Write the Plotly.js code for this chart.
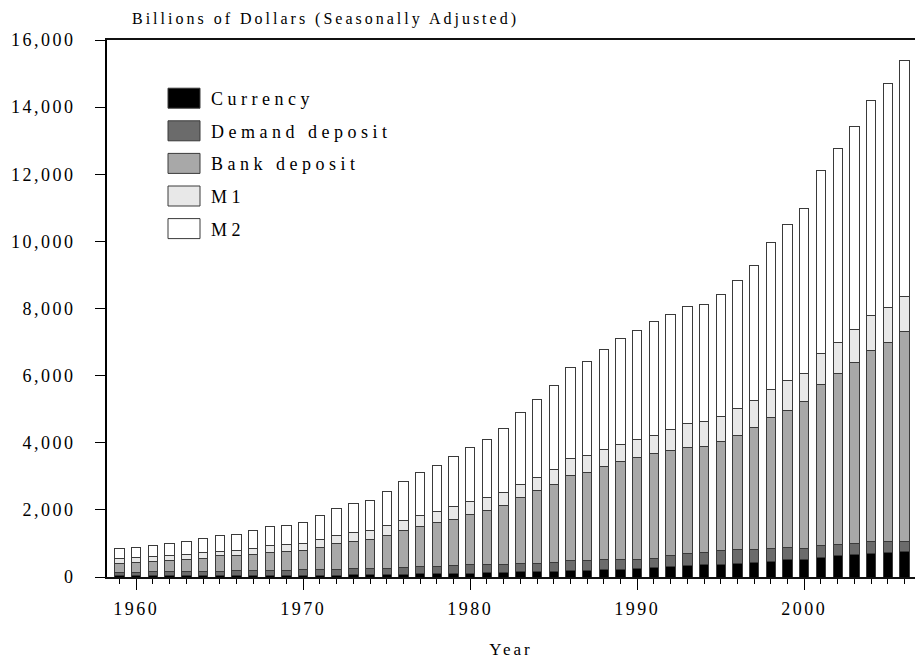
<!DOCTYPE html>
<html><head><meta charset="utf-8">
<script src="https://cdn.plot.ly/plotly-3.0.1.min.js"></script>
<style>
body{margin:0;background:#fff}
#chart .xtick text, #chart .ytick text {letter-spacing:2.5px}
#chart .legendtext {letter-spacing:4.5px}
#chart .gtitle {letter-spacing:3px}
#chart .xtitle {letter-spacing:3px}
</style></head><body>
<div id="chart" style="width:915px;height:667px"></div>
<script>
const years = [1959,1960,1961,1962,1963,1964,1965,1966,1967,1968,1969,1970,1971,1972,1973,1974,1975,1976,1977,1978,1979,1980,1981,1982,1983,1984,1985,1986,1987,1988,1989,1990,1991,1992,1993,1994,1995,1996,1997,1998,1999,2000,2001,2002,2003,2004,2005,2006];
const currency = [30,30,31,32,34,36,38,40,42,45,48,51,55,59,64,70,76,83,91,100,109,119,127,137,151,161,173,186,203,219,231,255,276,300,330,362,382,405,435,470,526,536,595,640,675,710,735,760];
const demandDeposit = [119,119,121,127,128,133,134,139,143,154,155,161,167,179,188,188,192,200,209,220,229,241,233,240,246,251,267,309,297,288,276,271,290,345,375,383,393,400,399,370,354,319,340,314,325,340,310,310];
const bankDeposit = [259,278,315,328,374,397,454,447,500,536,562,588,652,755,811,854,963,1088,1210,1299,1390,1507,1626,1768,1967,2151,2331,2534,2619,2781,2939,3030,3099,3129,3159,3139,3248,3416,3606,3920,4095,4360,4815,5116,5390,5690,5935,6240];
const m1 = [149,149,149,159,140,159,139,169,169,189,189,203,248,248,268,278,289,308,328,338,378,387,368,368,387,407,427,497,496,506,497,531,566,626,705,744,764,805,814,830,870,843,915,930,980,1043,1045,1050];
const m2 = [298,308,318,347,387,417,457,476,536,566,586,631,706,805,854,894,1013,1152,1271,1370,1470,1590,1748,1917,2136,2304,2503,2731,2811,2990,3157,3268,3374,3431,3488,3485,3634,3800,4026,4375,4649,4922,5435,5776,6057,6405,6673,7040];
const seriesNames = ['Currency','Demand deposit','Bank deposit','M1','M2'];
const seriesValues = [currency, demandDeposit, bankDeposit, m1, m2];
const seriesColors = ['#000000','#6b6b6b','#a8a8a8','#e8e8e8','#ffffff'];
const yTicks = [0,2000,4000,6000,8000,10000,12000,14000,16000];

const FONT = '"Liberation Serif", "Times New Roman", Times, serif';
const traces = seriesNames.map((n,i)=>({
  type:'bar', name:n, x:years, y:seriesValues[i], legendgroup:'g'+i,
  marker:{color:seriesColors[i], line:{color:'#3a3a3a', width:1}},
  hoverinfo:'x+y+name'
}));
const layout = {
  width:915, height:667, barmode:'stack', bargap:0.44,
  paper_bgcolor:'#fff', plot_bgcolor:'#fff',
  font:{family:FONT, size:18, color:'#000'},
  margin:{l:107, r:0, t:40, b:90},
  title:{text:'Billions of Dollars (Seasonally Adjusted)', font:{family:FONT, size:16, color:'#000'},
    x:132/915, xref:'container', xanchor:'left', y:1-18/667, yref:'container', yanchor:'middle'},
  xaxis:{range:[1958.25, 2006.63], tick0:1960, dtick:10, ticks:'outside', ticklen:11, tickwidth:1, tickcolor:'#000',
    minor:{dtick:1, ticks:'outside', ticklen:5, tickwidth:1, tickcolor:'#000'},
    showline:true, mirror:true, linecolor:'#111', linewidth:2, showgrid:false, zeroline:false,
    tickfont:{family:FONT, size:18}, ticklabelstandoff:3,
    title:{text:'Year', font:{family:FONT, size:17}, standoff:26}},
  yaxis:{range:[0,16000], tickvals:yTicks, tickformat:',d', ticks:'outside', ticklen:10, tickwidth:1, tickcolor:'#000',
    showline:true, linecolor:'#000', linewidth:2, showgrid:false, zeroline:false,
    tickfont:{family:FONT, size:18}, ticklabelstandoff:16},
  legend:{x:(157-107)/808, y:(577-80)/537, xanchor:'left', yanchor:'top', traceorder:'grouped',
    bgcolor:'rgba(0,0,0,0)', borderwidth:0, itemwidth:44, tracegroupgap:6.2,
    font:{family:FONT, size:18}},
  showlegend:true
};
Plotly.newPlot('chart', traces, layout, {displayModeBar:false}).then(function(){
  document.querySelectorAll('#chart .legendpoints path').forEach(function(p){
    p.setAttribute('d','M16,10H-16V-10H16Z');
  });
  document.querySelectorAll('#chart .legend [clip-path]').forEach(function(g){
    g.removeAttribute('clip-path');
  });
});
</script>
</body></html>
